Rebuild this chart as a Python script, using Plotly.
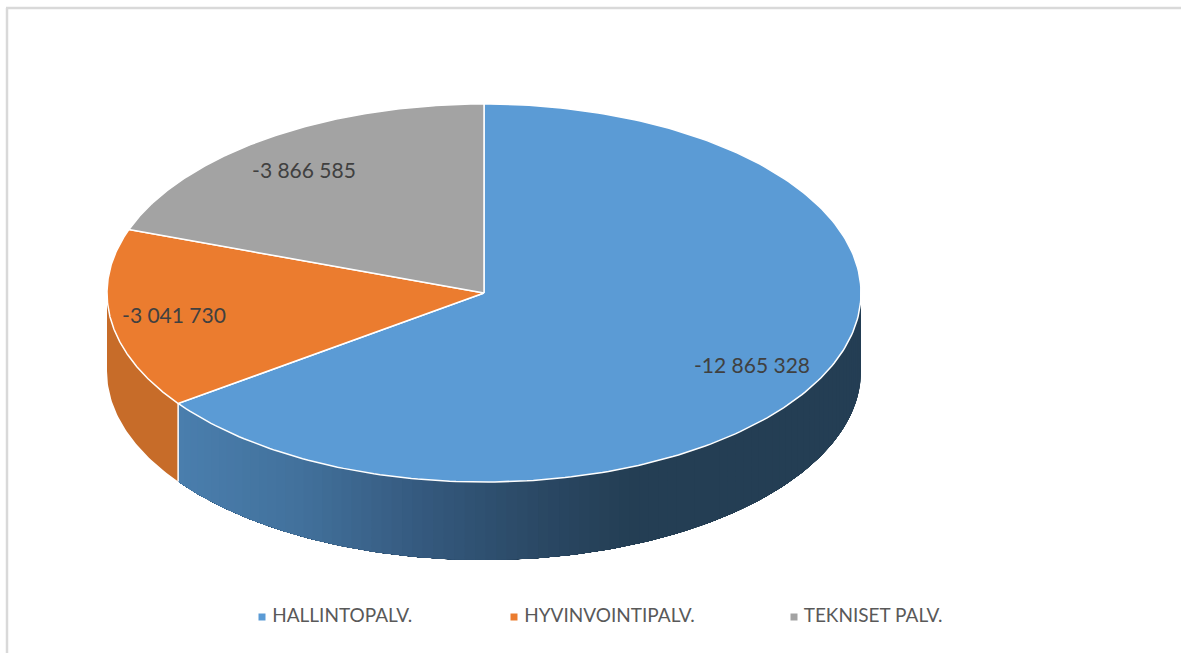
import numpy as np
import plotly.graph_objects as go

categories = ["HALLINTOPALV.", "HYVINVOINTIPALV.", "TEKNISET PALV."]
values = [12865328, 3041730, 3866585]
colors = ["#5b9bd5", "#eb7c2f", "#a3a3a3"]

W, H = 1181, 653
CX, CY, RX, RY, DEPTH = 484.0, 293.0, 377.0, 189.0, 78.0
LABEL_POS = [(752, 368), (174, 318), (304, 173)]
LEGEND_POS = [(262, 617), (514, 617), (794, 617)]


def ex(t):
    return CX + RX * np.sin(t)


def ey(t):
    return CY - RY * np.cos(t)


def lerp_stops(x, stops):
    xs = [s[0] for s in stops]
    return "rgb(%d,%d,%d)" % tuple(
        round(float(np.interp(x, xs, [s[1][i] for s in stops]))) for i in range(3)
    )


fractions = np.array(values, dtype=float) / sum(values)
edges = np.concatenate([[0.0], np.cumsum(fractions)]) * 2 * np.pi

fig = go.Figure()

BLUE_STOPS = [(178, (74, 126, 173)), (300, (66, 113, 156)), (430, (52, 88, 124)),
              (540, (42, 72, 100)), (630, (36, 62, 84)), (861, (36, 62, 84))]
ORANGE_STOPS = [(107, (199, 108, 41)), (178, (199, 108, 41))]


def side_band(t0, t1, stops, n):
    # painter's order: every band runs to the far end, so no seams show between bands
    ts = np.linspace(t0, t1, n + 1)
    for a, b in zip(ts[:-1], ts[1:]):
        seg = np.linspace(a, t1, max(4, int(240 * (t1 - a) / np.pi)))
        xs = np.concatenate([ex(seg), ex(seg[::-1])])
        ys = np.concatenate([ey(seg), ey(seg[::-1]) + DEPTH])
        col = lerp_stops(float(ex((a + b) / 2)), stops)
        fig.add_trace(go.Scatter(x=xs, y=ys, mode="lines", fill="toself", fillcolor=col,
                                 line=dict(color="rgba(0,0,0,0)", width=0),
                                 hoverinfo="skip", showlegend=False))


# side wall: only the front half of the disc (90 to 270 degrees) is visible
side_band(np.pi / 2, edges[1], BLUE_STOPS, 90)
side_band(edges[1], 1.5 * np.pi, ORANGE_STOPS, 1)

# white separator between side walls
fig.add_trace(go.Scatter(x=[ex(edges[1])] * 2, y=[ey(edges[1]), ey(edges[1]) + DEPTH], mode="lines",
                         line=dict(color="#ffffff", width=1.5), hoverinfo="skip", showlegend=False))

# top face
for i, name in enumerate(categories):
    t = np.linspace(edges[i], edges[i + 1], 240)
    xs = np.concatenate([[CX], ex(t), [CX]])
    ys = np.concatenate([[CY], ey(t), [CY]])
    fig.add_trace(go.Scatter(x=xs, y=ys, mode="lines", fill="toself", fillcolor=colors[i], name=name,
                             line=dict(color="#ffffff", width=1.5), hoverinfo="name", showlegend=False))

# value labels
label_text = [f"{-v:,}".replace(",", " ") for v in values]
fig.add_trace(go.Scatter(x=[p[0] for p in LABEL_POS], y=[p[1] for p in LABEL_POS], mode="text",
                         text=label_text, textposition="middle center",
                         textfont=dict(family="Lato", size=21, color="#404040"),
                         hoverinfo="skip", showlegend=False))

# legend row
for i, name in enumerate(categories):
    fig.add_trace(go.Scatter(x=[LEGEND_POS[i][0]], y=[LEGEND_POS[i][1]], mode="markers+text",
                             marker=dict(symbol="square", size=7, color=colors[i]),
                             text=[" " + name], textposition="middle right",
                             textfont=dict(family="Lato", size=19, color="#595959"),
                             hoverinfo="skip", showlegend=False))

fig.update_layout(
    width=W, height=H, autosize=False,
    margin=dict(l=0, r=0, t=0, b=0),
    paper_bgcolor="#ffffff", plot_bgcolor="#ffffff",
    xaxis=dict(range=[0, W], visible=False, fixedrange=True),
    yaxis=dict(range=[H, 0], visible=False, fixedrange=True),
    shapes=[
        dict(type="line", x0=7, x1=7, y0=8, y1=H, line=dict(color="#d9d9d9", width=2.5), layer="below"),
        dict(type="line", x0=6, x1=W, y0=8, y1=8, line=dict(color="#d9d9d9", width=2.5), layer="below"),
    ],
)
fig.write_html("out.html", config={"displayModeBar": False},
               post_script="document.body.style.margin='0';document.body.style.overflow='hidden';")
